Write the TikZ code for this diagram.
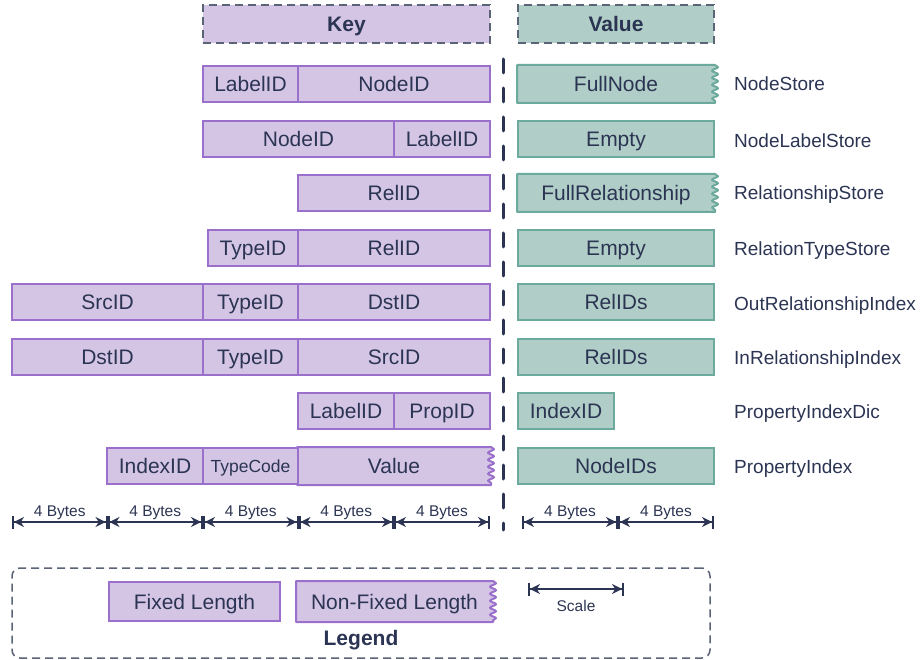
\documentclass[tikz,border=0pt]{standalone}
\usepackage{fontspec}
\setmainfont{Liberation Sans}
\usetikzlibrary{arrows.meta,decorations.pathmorphing,backgrounds,calc}
\definecolor{kfill}{HTML}{D4C5E5}
\definecolor{kline}{HTML}{9B70CC}
\definecolor{vfill}{HTML}{B0CEC7}
\definecolor{vline}{HTML}{6BAA9C}
\definecolor{txt}{HTML}{2B3452}
\definecolor{hline}{HTML}{5B6376}
\begin{document}
\begin{tikzpicture}[x=1pt,y=-1pt,
  every node/.style={text=txt},
  cellbase/.style={line width=2pt, minimum height=36pt, inner sep=0pt, font=\fontsize{21}{23}\selectfont, text height=15pt, text depth=0pt},
  kcell/.style={cellbase, draw=kline, fill=kfill},
  vcell/.style={cellbase, draw=vline, fill=vfill},
  kzig/.style={cellbase},
  kzigshape/.style={draw=kline, fill=kfill, line width=2pt, line join=round},
  vzigshape/.style={draw=vline, fill=vfill, line width=2pt, line join=round},
  wavy/.style={decoration={snake, segment length=7pt, amplitude=3pt}},
  khead/.style={draw=hline, fill=kfill, line width=1.5pt, dash pattern=on 8pt off 5pt, minimum height=38pt, inner sep=0pt, font=\fontsize{21}{23}\selectfont\bfseries, text height=15pt, text depth=0pt},
  vhead/.style={khead, fill=vfill},
  sidelabel/.style={anchor=west, inner sep=0pt, font=\fontsize{19}{21}\selectfont, text height=13.6pt, text depth=0pt},
  small/.style={font=\fontsize{17.5}{19}\selectfont},
  dimlabel/.style={inner sep=0pt, font=\fontsize{15.5}{17}\selectfont, text height=11pt, text depth=0pt},
  dim/.style={draw=txt, line width=2pt, {Bar[width=13pt,line width=2pt]Stealth[length=10pt,width=10pt]}-{Stealth[length=10pt,width=10pt]Bar[width=13pt,line width=2pt]}},
  divider/.style={draw=txt, line width=3pt, line cap=round, dash pattern=on 14pt off 15pt},
  legendbox/.style={draw=hline, line width=1.5pt, dash pattern=on 8pt off 5pt, rounded corners=8pt, inner sep=0pt}
]
\path[use as bounding box] (0,0) rectangle (921,660);

% headers
\node[khead, minimum width=287pt] (keyh) at (346.5,24) {Key};
\node[vhead, minimum width=196pt] (valh) at (616,24) {Value};

% divider
\coordinate (dtop) at (503,59);
\coordinate (dbot) at (503,530);
\draw[divider] (dtop) -- (dbot);

% row 1
\node[kcell, minimum width=95pt] (r1a) at (250.5,84) {LabelID};
\node[kcell, minimum width=192pt] (r1b) at (394,84) {NodeID};
\node[kzig, minimum width=196pt] (r1v) at (616,84) {FullNode};
\node[sidelabel] (r1l) at (734,84) {NodeStore};

% row 2
\node[kcell, minimum width=191pt] (r2a) at (298.5,139) {NodeID};
\node[kcell, minimum width=96pt] (r2b) at (442,139) {LabelID};
\node[vcell, minimum width=196pt] (r2v) at (616,139) {Empty};
\node[sidelabel] (r2l) at (734,141) {NodeLabelStore};

% row 3
\node[kcell, minimum width=192pt] (r3a) at (394,193) {RelID};
\node[kzig, minimum width=196pt] (r3v) at (616,193) {FullRelationship};
\node[sidelabel] (r3l) at (734,193) {RelationshipStore};

% row 4
\node[kcell, minimum width=90pt] (r4a) at (253,248) {TypeID};
\node[kcell, minimum width=192pt] (r4b) at (394,248) {RelID};
\node[vcell, minimum width=196pt] (r4v) at (616,248) {Empty};
\node[sidelabel] (r4l) at (734,249) {RelationTypeStore};

% row 5
\node[kcell, minimum width=191pt] (r5a) at (107.5,302) {SrcID};
\node[kcell, minimum width=95pt] (r5b) at (250.5,302) {TypeID};
\node[kcell, minimum width=192pt] (r5c) at (394,302) {DstID};
\node[vcell, minimum width=196pt] (r5v) at (616,302) {RelIDs};
\node[sidelabel] (r5l) at (734,304) {OutRelationshipIndex};

% row 6
\node[kcell, minimum width=191pt] (r6a) at (107.5,357) {DstID};
\node[kcell, minimum width=95pt] (r6b) at (250.5,357) {TypeID};
\node[kcell, minimum width=192pt] (r6c) at (394,357) {SrcID};
\node[vcell, minimum width=196pt] (r6v) at (616,357) {RelIDs};
\node[sidelabel] (r6l) at (734,358) {InRelationshipIndex};

% row 7
\node[kcell, minimum width=96pt] (r7a) at (346,411) {LabelID};
\node[kcell, minimum width=96pt] (r7b) at (442,411) {PropID};
\node[vcell, minimum width=96pt] (r7v) at (566,411) {IndexID};
\node[sidelabel] (r7l) at (734,412) {PropertyIndexDic};

% row 8
\node[kcell, minimum width=96pt] (r8a) at (155,466) {IndexID};
\node[kcell, minimum width=95pt, small, text height=12.5pt] (r8b) at (250.5,466) {TypeCode};
\node[kzig, minimum width=192pt] (r8c) at (394,466) {Value};
\node[vcell, minimum width=196pt] (r8v) at (616,466) {NodeIDs};
\node[sidelabel] (r8l) at (734,467) {PropertyIndex};

% legend
\node[legendbox, minimum width=698pt, minimum height=90pt] (leg) at (361,613) {};
\node[kcell, minimum width=171pt, minimum height=39pt] (fixed) at (194.5,601.5) {Fixed Length};
\node[kzig, minimum width=195pt, minimum height=39pt] (nonfixed) at (394.5,601.5) {Non-Fixed Length};
\node[inner sep=0pt, font=\fontsize{21}{23}\selectfont\bfseries, text height=15pt, text depth=0pt] (legt) at (361,638) {Legend};

% wavy shapes behind text
\begin{pgfonlayer}{background}
\path[vzigshape] (r1v.north west) -- (r1v.north east) decorate[wavy]{-- (r1v.south east)} -- (r1v.south west) -- cycle;
\path[vzigshape] (r3v.north west) -- (r3v.north east) decorate[wavy]{-- (r3v.south east)} -- (r3v.south west) -- cycle;
\path[kzigshape] (r8c.north west) -- (r8c.north east) decorate[wavy]{-- (r8c.south east)} -- (r8c.south west) -- cycle;
\path[kzigshape] (nonfixed.north west) -- (nonfixed.north east) decorate[wavy]{-- (nonfixed.south east)} -- (nonfixed.south west) -- cycle;
\end{pgfonlayer}

% scale bars
\coordinate (b0) at (12,522);
\coordinate (b1) at (107.5,522);
\coordinate (b2) at (203,522);
\coordinate (b3) at (298.5,522);
\coordinate (b4) at (394,522);
\coordinate (b5) at (490,522);
\coordinate (c0) at (522,522);
\coordinate (c1) at (618,522);
\coordinate (c2) at (714,522);
\foreach \a/\b in {b0/b1,b1/b2,b2/b3,b3/b4,b4/b5,c0/c1,c1/c2}{
  \draw[dim] (\a) -- (\b);
  \node[dimlabel] at ($(\a)!0.5!(\b)+(0,-11)$) {4 Bytes};
}
\coordinate (s0) at (528,589);
\coordinate (s1) at (624,589);
\draw[dim] (s0) -- (s1);
\node[dimlabel] (scalet) at (576,606) {Scale};
\end{tikzpicture}
\end{document}
